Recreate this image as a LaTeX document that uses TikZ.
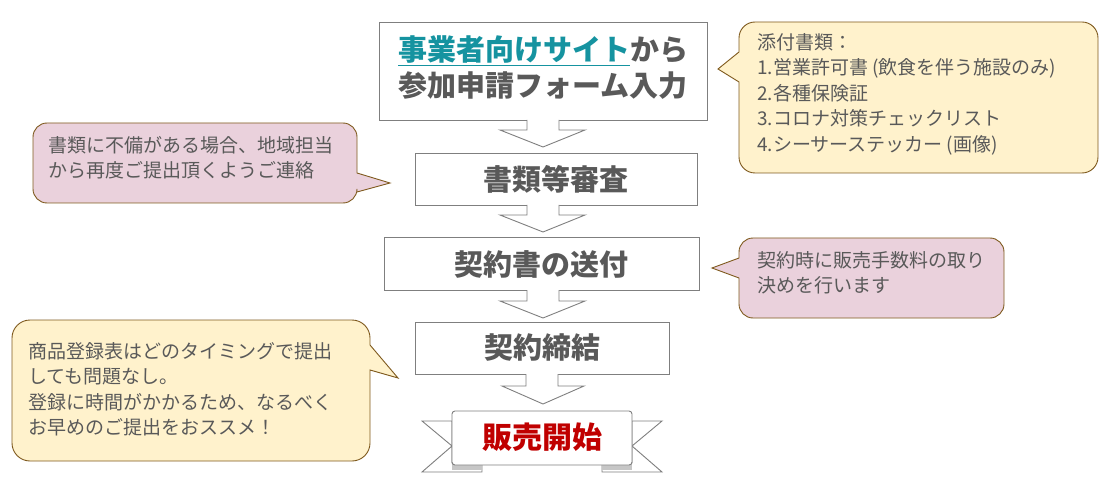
\documentclass[tikz,border=0pt]{standalone}
\usepackage{fontspec}
\setmainfont{Noto Sans CJK JP}
\definecolor{txt}{HTML}{595959}
\definecolor{teal1}{HTML}{1593A0}
\definecolor{yelf}{HTML}{FFF2CC}
\definecolor{pinkf}{HTML}{EAD1DC}
\definecolor{brd}{HTML}{7F5A1E}
\definecolor{gbrd}{HTML}{7F7F7F}
\begin{document}
\begin{tikzpicture}[x=1pt,y=-1pt,
  stepbox/.style={draw=gbrd,line width=0.9pt,fill=white},
  steptxt/.style={font=\fontsize{29}{34}\selectfont\bfseries,text=txt,align=center,inner sep=0},
  arr/.style={draw=gbrd,line width=0.9pt,fill=white,line join=miter},
  callY/.style={draw=brd,line width=0.9pt,fill=yelf},
  callP/.style={draw=brd,line width=0.9pt,fill=pinkf},
  ctxt/.style={font=\fontsize{19}{25.5}\selectfont,text=txt,align=left,anchor=north west,inner sep=0}]
\useasboundingbox (0,0) rectangle (1107,494);
% boxes
\draw[stepbox] (379,22) rectangle (707,120);
\node[steptxt] (s1) at (543,68) {{\color{teal1}\underline{事業者向けサイト}}から\\[2pt]参加申請フォーム入力};
\draw[arr] (527,120) -- (527,130) -- (500,130) -- (543,147) -- (585,130) -- (559,130) -- (559,120);
\draw[stepbox] (415,153) rectangle (697,205);
\node[steptxt] (s2) at (556,179) {書類等審査};
\draw[arr] (527,205) -- (527,215) -- (500,215) -- (543,232) -- (585,215) -- (559,215) -- (559,205);
\draw[stepbox] (384,237) rectangle (699,290);
\node[steptxt] (s3) at (541,264) {契約書の送付};
\draw[arr] (527,290) -- (527,301) -- (500,301) -- (543,318) -- (585,301) -- (559,301) -- (559,290);
\draw[stepbox] (415,322) rectangle (669,374);
\node[steptxt] (s4) at (542,348) {契約締結};
\draw[arr] (526,374) -- (526,386) -- (502,386) -- (543,404) -- (584,386) -- (558,386) -- (558,374);
% ribbon
\draw[arr] (452,421) -- (422,421) -- (452,446) -- (422,472) -- (482,472) -- (482,463) -- (452,463) -- cycle;
\draw[arr] (632,421) -- (662,421) -- (632,446) -- (662,472) -- (602,472) -- (602,463) -- (632,463) -- cycle;
\fill[gray!45] (452,463) rectangle (482,470);
\fill[gray!45] (602,463) rectangle (632,470);
\draw[draw=gbrd,line width=0.9pt,fill=white,rounded corners=3] (452,411) rectangle (632,465);
\node[font=\fontsize{30}{34}\selectfont\bfseries,text={rgb,255:red,192;green,0;blue,0},inner sep=0] (s5) at (542,437) {販売開始};
% callouts
\draw[callY] (718,69) -- (739,82) [rounded corners=16] -- (739,173) -- (1098,173) -- (1098,22) -- (739,22) [sharp corners] -- (739,52) -- cycle;
\node[ctxt] (c1) at (757,33) {添付書類：\\1.営業許可書 (飲食を伴う施設のみ)\\2.各種保険証\\3.コロナ対策チェックリスト\\4.シーサーステッカー (画像)};
\draw[callP] (390,183) -- (357,173) [rounded corners=14] -- (357,123) -- (33,123) -- (33,203) -- (357,203) [sharp corners] -- (357,192) -- cycle;
\node[ctxt] (c2) at (48,136) {書類に不備がある場合、地域担当\\から再度ご提出頂くようご連絡};
\draw[callP] (712,268) -- (739,258) [rounded corners=14] -- (739,238) -- (1004,238) -- (1004,318) -- (739,318) [sharp corners] -- (739,278) -- cycle;
\node[ctxt] (c3) at (757,251) {契約時に販売手数料の取り\\決めを行います};
\draw[callY] (398,378) -- (370,370) [rounded corners=18] -- (370,461) -- (12,461) -- (12,320) -- (370,320) [sharp corners] -- (370,345) -- cycle;
\node[ctxt] (c4) at (28,342) {商品登録表はどのタイミングで提出\\しても問題なし。\\登録に時間がかかるため、なるべく\\お早めのご提出をおススメ！};
\end{tikzpicture}
\end{document}
